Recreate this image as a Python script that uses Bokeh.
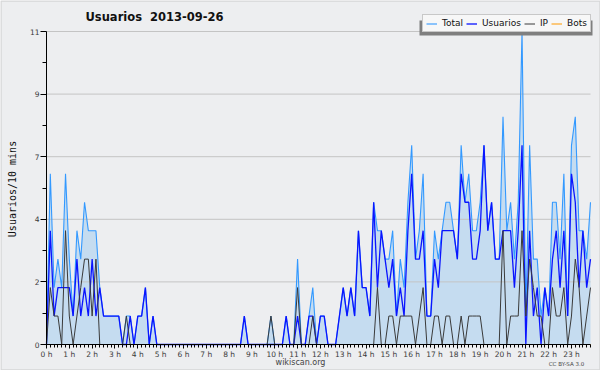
import math
from bokeh.plotting import figure
from bokeh.models import (Range1d, FixedTicker, Label, Legend, LegendItem,
                          BoxAnnotation, ColumnDataSource, LinearAxis)
from bokeh.embed import file_html
from bokeh.resources import INLINE

# ---- data: 144 ten-minute slots of 2013-09-26 ----
slots = list(range(144))
usuarios = [0, 4, 1, 2, 2, 2, 2, 1, 3, 1,
            2, 1, 3, 1, 2, 1, 1, 1, 1, 1,
            0, 0, 1, 0, 1, 1, 2, 0, 1, 0,
            0, 0, 0, 0, 0, 0, 0, 0, 0, 0,
            0, 0, 0, 0, 0, 0, 0, 0, 0, 0,
            0, 0, 1, 0, 0, 0, 0, 0, 0, 0,
            0, 0, 0, 1, 0, 0, 1, 0, 0, 1,
            1, 0, 1, 1, 0, 0, 0, 1, 2, 1,
            2, 1, 4, 2, 2, 1, 5, 2, 4, 3,
            2, 3, 1, 2, 1, 4, 6, 3, 3, 4,
            1, 1, 3, 2, 4, 4, 4, 4, 3, 6,
            5, 5, 3, 3, 4, 7, 4, 5, 3, 3,
            4, 4, 4, 2, 4, 7, 0, 4, 1, 2,
            0, 2, 1, 3, 4, 2, 4, 1, 6, 5,
            2, 4, 2, 3]
ip = [0, 2, 1, 1, 0, 4, 1, 0, 1, 2,
      3, 3, 1, 3, 0, 0, 0, 0, 0, 0,
      0, 1, 0, 0, 0, 0, 0, 0, 0, 0,
      0, 0, 0, 0, 0, 0, 0, 0, 0, 0,
      0, 0, 0, 0, 0, 0, 0, 0, 0, 0,
      0, 0, 0, 0, 0, 0, 0, 0, 0, 1,
      0, 0, 0, 0, 0, 0, 2, 0, 0, 0,
      1, 0, 0, 0, 0, 0, 0, 0, 0, 0,
      0, 0, 0, 0, 0, 0, 0, 2, 0, 0,
      1, 1, 0, 1, 1, 1, 1, 0, 1, 2,
      0, 0, 1, 1, 0, 1, 1, 0, 0, 1,
      0, 1, 1, 1, 1, 0, 0, 0, 0, 0,
      4, 0, 1, 1, 1, 4, 1, 3, 2, 1,
      1, 0, 0, 2, 1, 1, 2, 0, 1, 3,
      2, 0, 1, 2]
total = [0, 6, 2, 3, 2, 6, 3, 1, 4, 3,
         5, 4, 4, 4, 2, 1, 1, 1, 1, 1,
         0, 1, 1, 0, 1, 1, 2, 0, 1, 0,
         0, 0, 0, 0, 0, 0, 0, 0, 0, 0,
         0, 0, 0, 0, 0, 0, 0, 0, 0, 0,
         0, 0, 1, 0, 0, 0, 0, 0, 0, 1,
         0, 0, 0, 1, 0, 0, 3, 0, 0, 1,
         2, 0, 1, 1, 0, 0, 0, 1, 2, 1,
         2, 1, 4, 2, 2, 1, 5, 4, 4, 3,
         3, 4, 1, 3, 2, 5, 7, 3, 4, 6,
         1, 1, 4, 3, 4, 5, 5, 4, 3, 7,
         5, 6, 4, 4, 5, 7, 4, 5, 3, 3,
         8, 4, 5, 3, 5, 11, 1, 7, 3, 3,
         1, 2, 1, 5, 5, 3, 6, 1, 7, 8,
         4, 4, 3, 5]
bots = [0] * 144

y_tick_values = [0, 2.2, 4.4, 6.6, 8.8, 11]
y_tick_labels = ["0", "2", "4", "7", "9", "11"]
hours = list(range(24))
hour_labels = [f"{h} h" for h in hours]

# ---- layout (pixels) ----
W, H = 600, 370
PL, PR, PT, PB = 46, 590, 31, 344          # plot area in canvas pixels
BG = "#edeef0"
FONT = "DejaVu Sans"

x0, x1 = slots[0], slots[-1]
y0, y1 = y_tick_values[0], y_tick_values[-1]
kx = (x1 - x0) / (PR - PL)
ky = (y1 - y0) / (PB - PT)
x_range = Range1d(x0 - PL * kx, x1 + (W - PR) * kx)
y_range = Range1d(y0 - (H - PB) * ky, y1 + PT * ky)

src = ColumnDataSource(dict(x=slots, total=total, usuarios=usuarios, ip=ip, bots=bots))

p = figure(width=W, height=H, x_range=x_range, y_range=y_range,
           output_backend="svg", toolbar_location=None,
           x_axis_location=None, y_axis_location=None, min_border=0,
           background_fill_color=BG, border_fill_color=BG)
p.outline_line_color = None
p.grid.visible = False

# fill under total
p.varea(x="x", y1=0, y2="total", source=src, fill_color="#c5dcf0", fill_alpha=1)

# horizontal grid lines at the major y ticks
p.segment(x0=[x0] * (len(y_tick_values) - 1), x1=[x1] * (len(y_tick_values) - 1),
          y0=y_tick_values[1:], y1=y_tick_values[1:], line_color="#c4c4c4", line_width=1)

# series
r_bots = p.line("x", "bots", source=src, line_color="#ff9900", line_width=1)
r_total = p.line("x", "total", source=src, line_color="#3399ff", line_width=1.1)
r_users = p.line("x", "usuarios", source=src, line_color="#0a14ff", line_width=1.3)
r_ip = p.line("x", "ip", source=src, line_color="#3a3a3a", line_width=1)

# axes
y_minor = [(a + b) / 2 for a, b in zip(y_tick_values[:-1], y_tick_values[1:])]
yax = LinearAxis(fixed_location=x0, bounds=(y0, y1),
                 ticker=FixedTicker(ticks=y_tick_values, minor_ticks=y_minor),
                 major_label_overrides=dict(zip(y_tick_values, y_tick_labels)),
                 major_tick_out=6, major_tick_in=0, minor_tick_out=4, minor_tick_in=0,
                 major_label_standoff=1)
hour_pos = [h * 6 for h in hours]
xax = LinearAxis(fixed_location=y0, bounds=(x0, x1),
                 ticker=FixedTicker(ticks=hour_pos, minor_ticks=slots),
                 major_label_overrides=dict(zip(hour_pos, hour_labels)),
                 major_tick_out=4, major_tick_in=0, minor_tick_out=3, minor_tick_in=0,
                 major_label_standoff=1)
for ax in (xax, yax):
    ax.axis_line_color = "black"
    ax.major_tick_line_color = "black"
    ax.minor_tick_line_color = "black"
    ax.major_label_text_font = FONT
    ax.major_label_text_font_size = "7.5px"
    ax.major_label_text_color = "#3a3a3a"
p.add_layout(yax, "left")
p.add_layout(xax, "below")

# legend with shadow
shadow = BoxAnnotation(left=419, right=592, top=H - 20, bottom=H - 35,
                       left_units="screen", right_units="screen",
                       top_units="screen", bottom_units="screen",
                       fill_color="#7f7f7f", fill_alpha=1, line_color=None)
p.add_layout(shadow)

legend = Legend(items=[LegendItem(label="Total", renderers=[r_total]),
                       LegendItem(label="Usuarios", renderers=[r_users]),
                       LegendItem(label="IP", renderers=[r_ip]),
                       LegendItem(label="Bots", renderers=[r_bots])],
                orientation="horizontal", location=(422, H - 32),
                label_text_font=FONT, label_text_font_size="9px", label_text_color="#111111",
                glyph_width=11, glyph_height=9, label_height=9, label_width=0,
                label_standoff=5, spacing=3, padding=3, margin=0,
                border_line_color="#999999", border_line_width=1,
                background_fill_color="#f7f7f7", background_fill_alpha=1)
p.add_layout(legend)

# texts
p.add_layout(Label(x=85, y=H - 16, x_units="screen", y_units="screen",
                   text="Usuarios \u00a02013-09-26", text_font=FONT, text_font_style="bold",
                   text_font_size="11.5px", text_color="#111111",
                   text_align="left", text_baseline="middle"))
p.add_layout(Label(x=12, y=H - 188.5, x_units="screen", y_units="screen",
                   text="Usuarios/10 mins", text_font="DejaVu Sans Mono",
                   text_font_size="10px", text_color="#111111", angle=math.pi / 2,
                   text_align="center", text_baseline="middle"))
p.add_layout(Label(x=300, y=H - 362, x_units="screen", y_units="screen",
                   text="wikiscan.org", text_font=FONT, text_font_size="8px",
                   text_color="#444444", text_align="center", text_baseline="middle"))
p.add_layout(Label(x=566, y=H - 363, x_units="screen", y_units="screen",
                   text="CC BY-SA 3.0", text_font=FONT, text_font_size="5.5px",
                   text_color="#444444", text_align="center", text_baseline="middle"))

# outer border of the image
border = BoxAnnotation(left=0.5, right=W - 0.5, top=H - 0.5, bottom=0.5,
                       left_units="screen", right_units="screen",
                       top_units="screen", bottom_units="screen",
                       fill_alpha=0, line_color="#a0a0a0", line_width=1.5)
p.add_layout(border)

open("out.html", "w").write(file_html(p, INLINE))
